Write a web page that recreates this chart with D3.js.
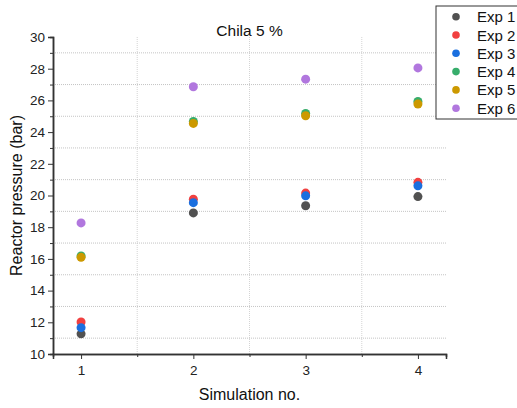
<!DOCTYPE html>
<html>
<head>
<meta charset="utf-8">
<script src="https://cdn.jsdelivr.net/npm/d3@7"></script>
<style>
  body { margin: 0; background: #fff; }
  svg { font-family: "Liberation Sans", Arial, sans-serif; }
</style>
</head>
<body>
<svg id="chart"></svg>
<script>
// Chila 5 % - reactor pressure per simulation
const simulations = [1, 2, 3, 4];
const seriesNames = ["Exp 1", "Exp 2", "Exp 3", "Exp 4", "Exp 5", "Exp 6"];
const colors = ["#515151", "#F14040", "#1A6FDF", "#37AD6B", "#CC9900", "#B177DE"];

const exp1 = [11.27, 18.9, 19.35, 19.93];
const exp2 = [12.02, 19.77, 20.15, 20.83];
const exp3 = [11.66, 19.55, 19.98, 20.61];
const exp4 = [16.18, 24.67, 25.18, 25.93];
const exp5 = [16.1, 24.55, 25.03, 25.77];
const exp6 = [18.27, 26.86, 27.34, 28.05];
const allSeries = [exp1, exp2, exp3, exp4, exp5, exp6];

const yTicks = [10, 12, 14, 16, 18, 20, 22, 24, 26, 28, 30];
const yMinor = [11, 13, 15, 17, 19, 21, 23, 25, 27, 29];
const xMinor = [1.5, 2.5, 3.5];

const W = 517, H = 408;
const margin = { top: 37, right: 71, bottom: 54, left: 53 };
const width = W - margin.left - margin.right;
const height = H - margin.top - margin.bottom;

const svg = d3.select("#chart").attr("width", W).attr("height", H);
const g = svg.append("g").attr("transform", `translate(${margin.left},${margin.top})`);

const x = d3.scaleLinear().domain([0.75, 4.25]).range([0, width]);
const y = d3.scaleLinear().domain([10, 30]).range([height, 0]);

// grid
g.append("g").selectAll("line").data(xMinor).join("line")
  .attr("x1", d => x(d)).attr("x2", d => x(d))
  .attr("y1", 0).attr("y2", height)
  .attr("stroke", "#d4d4d4").attr("stroke-dasharray", "1,1");
g.append("g").selectAll("line").data(yMinor).join("line")
  .attr("x1", 0).attr("x2", width)
  .attr("y1", d => y(d)).attr("y2", d => y(d))
  .attr("stroke", "#c4c4c4").attr("stroke-dasharray", "1,1");

// axes
g.append("g")
  .call(d3.axisLeft(y).tickValues(yTicks).tickSize(5).tickPadding(3));
g.append("g")
  .call(d3.axisLeft(y).tickValues(yMinor).tickSize(3).tickFormat(""));
g.append("g").attr("transform", `translate(0,${height})`)
  .call(d3.axisBottom(x).tickValues(simulations).tickSize(5).tickPadding(6).tickFormat(d3.format("d")));
g.append("g").attr("transform", `translate(0,${height})`)
  .call(d3.axisBottom(x).tickValues(xMinor).tickSize(3).tickFormat(""));

g.selectAll(".domain").attr("stroke", "#333").attr("stroke-width", 1.5);
g.selectAll(".tick line").attr("stroke", "#333");
g.selectAll(".tick text").attr("fill", "#222").style("font-size", "13.5px");

// points, later series on top
allSeries.forEach((vals, si) => {
  g.append("g").selectAll("circle").data(vals).join("circle")
    .attr("cx", (d, i) => x(simulations[i]))
    .attr("cy", d => y(d))
    .attr("r", 4.5)
    .attr("fill", colors[si]);
});

// title and labels
svg.append("text").attr("x", margin.left + width / 2).attr("y", 36)
  .attr("text-anchor", "middle").style("font-size", "15.5px").attr("fill", "#111")
  .text("Chila 5 %");
svg.append("text").attr("x", margin.left + width / 2).attr("y", 400)
  .attr("text-anchor", "middle").style("font-size", "16px").attr("fill", "#111")
  .text("Simulation no.");
svg.append("text")
  .attr("transform", `translate(22,${margin.top + height / 2}) rotate(-90)`)
  .attr("text-anchor", "middle").style("font-size", "16px").attr("fill", "#111")
  .text("Reactor pressure (bar)");

// legend
const legend = svg.append("g").attr("transform", "translate(436,6)");
legend.append("rect").attr("width", 90).attr("height", 113)
  .attr("fill", "#fff").attr("stroke", "#333").attr("stroke-width", 1);
seriesNames.forEach((name, i) => {
  const ly = 10.7 + i * 18.3;
  legend.append("circle").attr("cx", 20).attr("cy", ly).attr("r", 3.8).attr("fill", colors[i]);
  legend.append("text").attr("x", 41).attr("y", ly + 5.5)
    .style("font-size", "15px").attr("fill", "#111").text(name);
});
</script>
</body>
</html>
